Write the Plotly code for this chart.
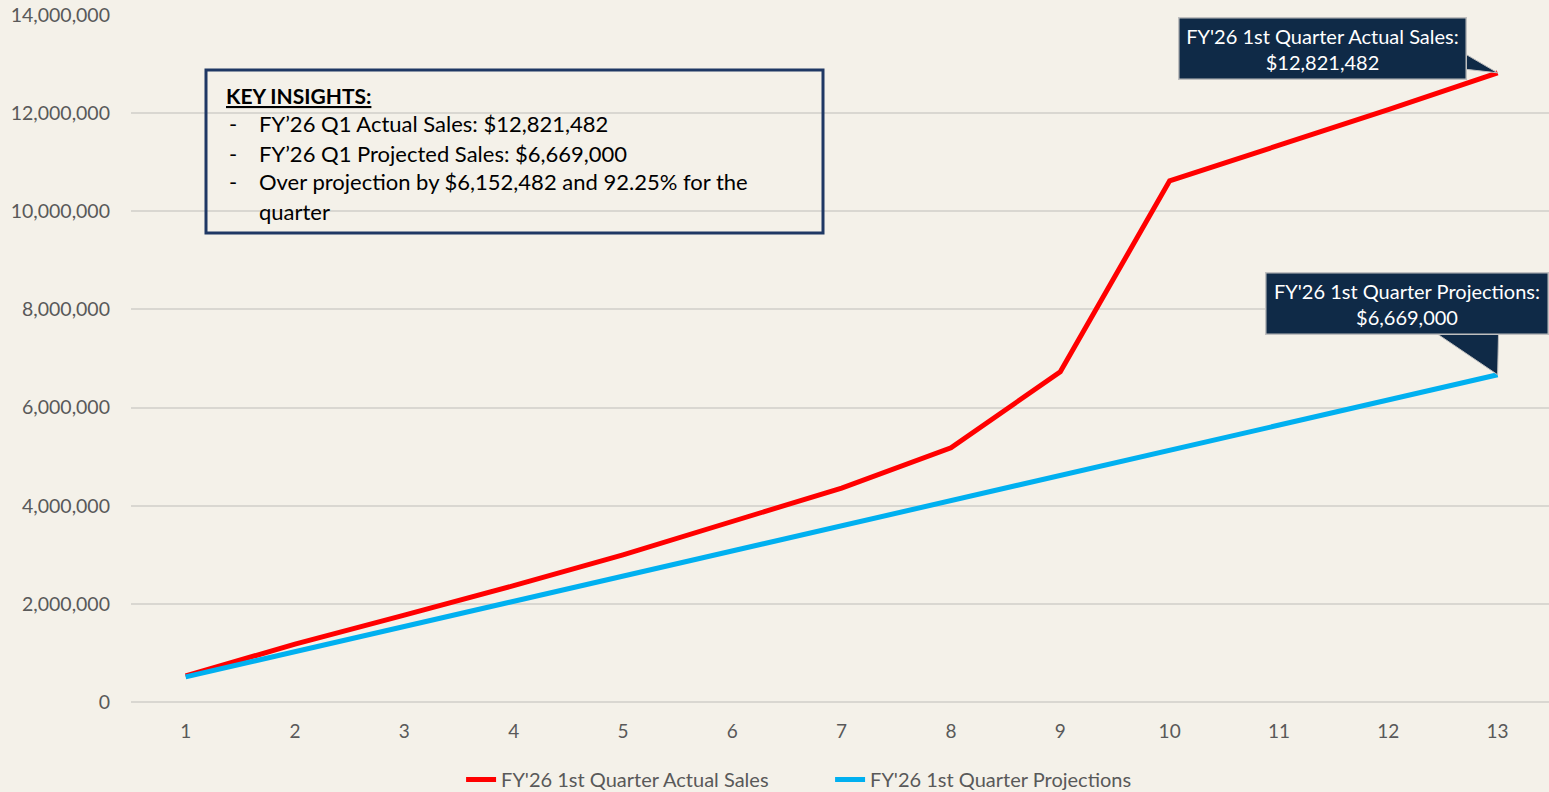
import plotly.graph_objects as go

weeks = list(range(1, 14))
actual_sales = [530000, 1180000, 1770000, 2370000, 3000000, 3670000, 4360000,
                5180000, 6730000, 10620000, 11340000, 12070000, 12821482]
projections = [513000, 1026000, 1539000, 2052000, 2565000, 3078000, 3591000,
               4104000, 4617000, 5130000, 5643000, 6156000, 6669000]
series_names = ["FY'26 1st Quarter Actual Sales", "FY'26 1st Quarter Projections"]
y_ticks = [0, 2000000, 4000000, 6000000, 8000000, 10000000, 12000000, 14000000]
insight_title = "KEY INSIGHTS:"
insight_lines = ["FY\u201926 Q1 Actual Sales: $12,821,482",
                 "FY\u201926 Q1 Projected Sales: $6,669,000",
                 "Over projection by $6,152,482 and 92.25% for the",
                 "quarter"]

W, H = 1549, 792
L, R, T, B = 131, 0, 15, 90
PW, PH = W - L - R, H - T - B

def px(x):
    return (x - L) / PW

def py(y):
    return (H - B - y) / PH

FONT = "Lato"
GRAY = "#595959"
NAVY = "#0f2a47"
BG = "#f4f1e9"

fig = go.Figure()
fig.add_trace(go.Scatter(x=weeks, y=actual_sales, mode="lines", name=series_names[0],
                         line=dict(color="#ff0000", width=5)))
fig.add_trace(go.Scatter(x=weeks, y=projections, mode="lines", name=series_names[1],
                         line=dict(color="#00b0f0", width=5)))

fig.update_layout(
    width=W, height=H,
    margin=dict(l=L, r=R, t=T, b=B, autoexpand=False),
    paper_bgcolor=BG, plot_bgcolor=BG,
    font=dict(family=FONT, color=GRAY, size=19),
    showlegend=True,
    legend=dict(orientation="h", x=0.493, xanchor="center", y=-0.0844, yanchor="top",
                font=dict(size=20, color=GRAY), bgcolor="rgba(0,0,0,0)",
                entrywidth=324, entrywidthmode="pixels", tracegroupgap=0),
    xaxis=dict(range=[0.5, 13.47], tickmode="array", tickvals=weeks,
               showgrid=False, zeroline=False, showline=False, ticks="",
               ticklabelstandoff=16, tickfont=dict(size=19, color=GRAY)),
    yaxis=dict(range=[0, 14000000], tickmode="array", tickvals=y_ticks,
               ticktext=[f"{v:,}" for v in y_ticks],
               showgrid=True, gridcolor="#d9d7d1", gridwidth=2,
               zeroline=True, zerolinecolor="#d9d7d1", zerolinewidth=2,
               showline=False, ticks="", ticklabelstandoff=20,
               tickfont=dict(size=19.5, color=GRAY)),
)

# Key insights box
fig.add_shape(type="rect", xref="paper", yref="paper",
              x0=px(206), x1=px(823), y0=py(233), y1=py(70),
              line=dict(color="#1f3864", width=3), fillcolor="rgba(0,0,0,0)")
fig.add_annotation(xref="paper", yref="paper", x=px(224), y=py(95),
                   xanchor="left", yanchor="middle", showarrow=False,
                   text=f"<b><u>{insight_title}</u></b>",
                   font=dict(family=FONT, size=21, color="#000000"))
line_ys = [124, 153, 182, 211]
for i, (txt, yy) in enumerate(zip(insight_lines, line_ys)):
    if i < 3:
        fig.add_annotation(xref="paper", yref="paper", x=px(227), y=py(yy),
                           xanchor="left", yanchor="middle", showarrow=False,
                           text="-", font=dict(family=FONT, size=22, color="#000000"))
    fig.add_annotation(xref="paper", yref="paper", x=px(257), y=py(yy),
                       xanchor="left", yanchor="middle", showarrow=False,
                       text=txt, font=dict(family=FONT, size=22, color="#000000"))

# Callout pointers (pixel offsets anchored on the last data points)
fig.add_shape(type="path", xref="x", yref="y", xsizemode="pixel", ysizemode="pixel",
              xanchor=weeks[-1], yanchor=actual_sales[-1],
              path="M -36,21 L 0,0 L -36,4 Z",
              fillcolor=NAVY, line=dict(color="#bfbfbf", width=1), layer="above")
fig.add_shape(type="path", xref="x", yref="y", xsizemode="pixel", ysizemode="pixel",
              xanchor=weeks[-1], yanchor=projections[-1],
              path="M -68,46 L 0,0 L 1,46 Z",
              fillcolor=NAVY, line=dict(color="#bfbfbf", width=1), layer="above")

# Callout boxes
fig.add_annotation(xref="paper", yref="paper", x=px(1322), y=py(48.5),
                   xanchor="center", yanchor="middle", showarrow=False,
                   text=f"{series_names[0]}:<br>${actual_sales[-1]:,}",
                   width=284, height=58, bgcolor=NAVY, bordercolor="#bfbfbf",
                   borderwidth=1.5, borderpad=1,
                   font=dict(family=FONT, size=20, color="#ffffff"))
fig.add_annotation(xref="paper", yref="paper", x=px(1406.5), y=py(303.5),
                   xanchor="center", yanchor="middle", showarrow=False,
                   text=f"{series_names[1]}:<br>${projections[-1]:,}",
                   width=279, height=58, bgcolor=NAVY, bordercolor="#bfbfbf",
                   borderwidth=1.5, borderpad=1,
                   font=dict(family=FONT, size=20, color="#ffffff"))

fig.write_html("out.html", config={"displayModeBar": False},
               post_script="document.body.style.margin='0px';"
                           "document.body.style.background='" + BG + "';")
